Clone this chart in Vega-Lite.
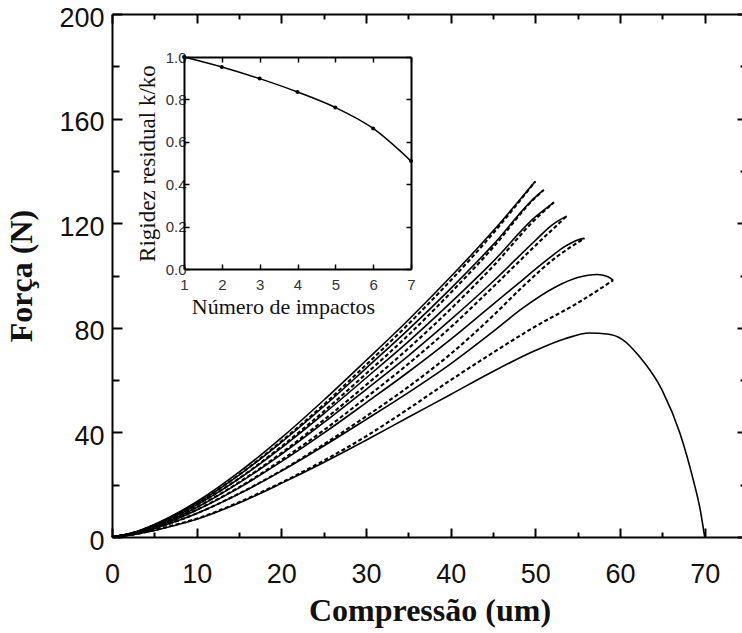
{
  "$schema": "https://vega.github.io/schema/vega-lite/v6.json",
  "width": 635,
  "height": 523,
  "autosize": {"type": "none"},
  "padding": {"left": 112, "top": 14, "right": 0, "bottom": 96},
  "background": "white",
  "config": {
    "view": {"stroke": null},
    "axis": {"grid": false, "domainColor": "black", "tickColor": "black", "labelOverlap": false, "labelFlush": false}
  },
  "datasets": {
    "carga": [
      {"impacto": 1, "x": 0, "f": 0}, {"impacto": 1, "x": 2.5, "f": 1.7}, {"impacto": 1, "x": 5, "f": 4.8}, {"impacto": 1, "x": 7.5, "f": 8.8}, {"impacto": 1, "x": 10, "f": 13.5}, {"impacto": 1, "x": 15, "f": 24.8}, {"impacto": 1, "x": 20, "f": 37.9}, {"impacto": 1, "x": 25, "f": 52.3}, {"impacto": 1, "x": 30, "f": 67.5}, {"impacto": 1, "x": 35, "f": 83}, {"impacto": 1, "x": 40, "f": 99.5}, {"impacto": 1, "x": 45, "f": 117}, {"impacto": 1, "x": 50, "f": 136},
      {"impacto": 2, "x": 0, "f": 0}, {"impacto": 2, "x": 2.5, "f": 1.6}, {"impacto": 2, "x": 5, "f": 4.6}, {"impacto": 2, "x": 7.5, "f": 8.4}, {"impacto": 2, "x": 10, "f": 12.9}, {"impacto": 2, "x": 15, "f": 23.7}, {"impacto": 2, "x": 20, "f": 36.2}, {"impacto": 2, "x": 25, "f": 49.9}, {"impacto": 2, "x": 30, "f": 64.5}, {"impacto": 2, "x": 35, "f": 79.3}, {"impacto": 2, "x": 40, "f": 95}, {"impacto": 2, "x": 45, "f": 111.7}, {"impacto": 2, "x": 50, "f": 130}, {"impacto": 2, "x": 51, "f": 132.7},
      {"impacto": 3, "x": 0, "f": 0}, {"impacto": 3, "x": 2.5, "f": 1.5}, {"impacto": 3, "x": 5, "f": 4.3}, {"impacto": 3, "x": 7.5, "f": 7.9}, {"impacto": 3, "x": 10, "f": 12.2}, {"impacto": 3, "x": 15, "f": 22.3}, {"impacto": 3, "x": 20, "f": 34.1}, {"impacto": 3, "x": 25, "f": 47.1}, {"impacto": 3, "x": 30, "f": 60.8}, {"impacto": 3, "x": 35, "f": 74.7}, {"impacto": 3, "x": 40, "f": 89.6}, {"impacto": 3, "x": 45, "f": 105.3}, {"impacto": 3, "x": 50, "f": 122.4}, {"impacto": 3, "x": 52.2, "f": 128},
      {"impacto": 4, "x": 0, "f": 0}, {"impacto": 4, "x": 2.5, "f": 1.4}, {"impacto": 4, "x": 5, "f": 4.0}, {"impacto": 4, "x": 7.5, "f": 7.3}, {"impacto": 4, "x": 10, "f": 11.3}, {"impacto": 4, "x": 15, "f": 20.7}, {"impacto": 4, "x": 20, "f": 31.6}, {"impacto": 4, "x": 25, "f": 43.7}, {"impacto": 4, "x": 30, "f": 56.4}, {"impacto": 4, "x": 35, "f": 69.3}, {"impacto": 4, "x": 40, "f": 83.1}, {"impacto": 4, "x": 45, "f": 97.7}, {"impacto": 4, "x": 50, "f": 113.4}, {"impacto": 4, "x": 52, "f": 119.4}, {"impacto": 4, "x": 53.7, "f": 122.7},
      {"impacto": 5, "x": 0, "f": 0}, {"impacto": 5, "x": 2.5, "f": 1.3}, {"impacto": 5, "x": 5, "f": 3.6}, {"impacto": 5, "x": 7.5, "f": 6.7}, {"impacto": 5, "x": 10, "f": 10.3}, {"impacto": 5, "x": 15, "f": 18.8}, {"impacto": 5, "x": 20, "f": 28.8}, {"impacto": 5, "x": 25, "f": 39.7}, {"impacto": 5, "x": 30, "f": 51.3}, {"impacto": 5, "x": 35, "f": 63.1}, {"impacto": 5, "x": 40, "f": 75.6}, {"impacto": 5, "x": 45, "f": 89}, {"impacto": 5, "x": 48, "f": 97}, {"impacto": 5, "x": 51, "f": 105}, {"impacto": 5, "x": 53.7, "f": 111.5}, {"impacto": 5, "x": 55, "f": 113.6}, {"impacto": 5, "x": 55.8, "f": 114.2},
      {"impacto": 6, "x": 0, "f": 0}, {"impacto": 6, "x": 2.5, "f": 1.1}, {"impacto": 6, "x": 5, "f": 3.2}, {"impacto": 6, "x": 7.5, "f": 5.9}, {"impacto": 6, "x": 10, "f": 9.0}, {"impacto": 6, "x": 15, "f": 16.5}, {"impacto": 6, "x": 20, "f": 25.2}, {"impacto": 6, "x": 25, "f": 34.8}, {"impacto": 6, "x": 30, "f": 44.9}, {"impacto": 6, "x": 35, "f": 55.2}, {"impacto": 6, "x": 40, "f": 66.2}, {"impacto": 6, "x": 45, "f": 78.5}, {"impacto": 6, "x": 48.5, "f": 87.5}, {"impacto": 6, "x": 52.5, "f": 95.8}, {"impacto": 6, "x": 55, "f": 99.2}, {"impacto": 6, "x": 57.3, "f": 100.4}, {"impacto": 6, "x": 58.5, "f": 99.6}, {"impacto": 6, "x": 59.2, "f": 98.2},
      {"impacto": 7, "x": 0, "f": 0}, {"impacto": 7, "x": 2.5, "f": 0.9}, {"impacto": 7, "x": 5, "f": 2.5}, {"impacto": 7, "x": 7.5, "f": 4.5}, {"impacto": 7, "x": 10, "f": 6.8}, {"impacto": 7, "x": 15, "f": 13}, {"impacto": 7, "x": 20, "f": 20.5}, {"impacto": 7, "x": 25, "f": 28.5}, {"impacto": 7, "x": 30, "f": 37}, {"impacto": 7, "x": 35, "f": 45.8}, {"impacto": 7, "x": 40, "f": 54.5}, {"impacto": 7, "x": 45, "f": 63.3}, {"impacto": 7, "x": 50, "f": 71.3}, {"impacto": 7, "x": 53.5, "f": 75.8}, {"impacto": 7, "x": 56.4, "f": 78}, {"impacto": 7, "x": 58.5, "f": 77.6}, {"impacto": 7, "x": 60.3, "f": 75.5}, {"impacto": 7, "x": 62.3, "f": 69}, {"impacto": 7, "x": 65, "f": 56}, {"impacto": 7, "x": 67.1, "f": 39.5}, {"impacto": 7, "x": 68.6, "f": 22.5}, {"impacto": 7, "x": 69.5, "f": 10}, {"impacto": 7, "x": 70, "f": 0}
    ],
    "descarga": [
      {"impacto": 1, "x": 0, "f": 0}, {"impacto": 1, "x": 2.5, "f": 1.6}, {"impacto": 1, "x": 5, "f": 4.6}, {"impacto": 1, "x": 7.5, "f": 8.4}, {"impacto": 1, "x": 10, "f": 12.95}, {"impacto": 1, "x": 15, "f": 23.8}, {"impacto": 1, "x": 20, "f": 36.6}, {"impacto": 1, "x": 25, "f": 50.6}, {"impacto": 1, "x": 30, "f": 65.8}, {"impacto": 1, "x": 35, "f": 81.4}, {"impacto": 1, "x": 40, "f": 98.1}, {"impacto": 1, "x": 45, "f": 116.1}, {"impacto": 1, "x": 50, "f": 136},
      {"impacto": 2, "x": 0, "f": 0}, {"impacto": 2, "x": 2.5, "f": 1.5}, {"impacto": 2, "x": 5, "f": 4.3}, {"impacto": 2, "x": 7.5, "f": 7.9}, {"impacto": 2, "x": 10, "f": 12.3}, {"impacto": 2, "x": 15, "f": 22.4}, {"impacto": 2, "x": 20, "f": 34.6}, {"impacto": 2, "x": 25, "f": 48.0}, {"impacto": 2, "x": 30, "f": 62.4}, {"impacto": 2, "x": 35, "f": 77.2}, {"impacto": 2, "x": 40, "f": 93.4}, {"impacto": 2, "x": 45, "f": 110.7}, {"impacto": 2, "x": 50, "f": 129.8}, {"impacto": 2, "x": 51, "f": 132.7},
      {"impacto": 3, "x": 0, "f": 0}, {"impacto": 3, "x": 2.5, "f": 1.4}, {"impacto": 3, "x": 5, "f": 4.0}, {"impacto": 3, "x": 7.5, "f": 7.3}, {"impacto": 3, "x": 10, "f": 11.4}, {"impacto": 3, "x": 15, "f": 20.9}, {"impacto": 3, "x": 20, "f": 32.1}, {"impacto": 3, "x": 25, "f": 44.7}, {"impacto": 3, "x": 30, "f": 58.1}, {"impacto": 3, "x": 35, "f": 72.1}, {"impacto": 3, "x": 40, "f": 87.2}, {"impacto": 3, "x": 45, "f": 103.5}, {"impacto": 3, "x": 50, "f": 121.5}, {"impacto": 3, "x": 52.2, "f": 128},
      {"impacto": 4, "x": 0, "f": 0}, {"impacto": 4, "x": 2.5, "f": 1.3}, {"impacto": 4, "x": 5, "f": 3.6}, {"impacto": 4, "x": 7.5, "f": 6.7}, {"impacto": 4, "x": 10, "f": 10.4}, {"impacto": 4, "x": 15, "f": 19.0}, {"impacto": 4, "x": 20, "f": 29.4}, {"impacto": 4, "x": 25, "f": 40.8}, {"impacto": 4, "x": 30, "f": 53.3}, {"impacto": 4, "x": 35, "f": 66.2}, {"impacto": 4, "x": 40, "f": 80.2}, {"impacto": 4, "x": 45, "f": 95.6}, {"impacto": 4, "x": 50, "f": 111.4}, {"impacto": 4, "x": 53.7, "f": 122.7},
      {"impacto": 5, "x": 0, "f": 0}, {"impacto": 5, "x": 2.5, "f": 1.1}, {"impacto": 5, "x": 5, "f": 3.2}, {"impacto": 5, "x": 7.5, "f": 5.9}, {"impacto": 5, "x": 10, "f": 9.0}, {"impacto": 5, "x": 15, "f": 16.6}, {"impacto": 5, "x": 20, "f": 25.4}, {"impacto": 5, "x": 25, "f": 35.4}, {"impacto": 5, "x": 30, "f": 46.1}, {"impacto": 5, "x": 35, "f": 57.4}, {"impacto": 5, "x": 40, "f": 70.0}, {"impacto": 5, "x": 45, "f": 84.6}, {"impacto": 5, "x": 48.5, "f": 95.7}, {"impacto": 5, "x": 52.5, "f": 107.1}, {"impacto": 5, "x": 55.8, "f": 114.2},
      {"impacto": 6, "x": 0, "f": 0}, {"impacto": 6, "x": 2.5, "f": 1.0}, {"impacto": 6, "x": 5, "f": 2.6}, {"impacto": 6, "x": 7.5, "f": 4.7}, {"impacto": 6, "x": 10, "f": 7}, {"impacto": 6, "x": 15, "f": 13.3}, {"impacto": 6, "x": 20, "f": 20.8}, {"impacto": 6, "x": 25, "f": 29.2}, {"impacto": 6, "x": 30, "f": 38.5}, {"impacto": 6, "x": 35, "f": 49}, {"impacto": 6, "x": 40, "f": 60}, {"impacto": 6, "x": 45, "f": 70.5}, {"impacto": 6, "x": 50, "f": 80.5}, {"impacto": 6, "x": 55, "f": 89.5}, {"impacto": 6, "x": 59.2, "f": 98.2}
    ],
    "rigidez": [
      {"impacto": 1, "k": 1.0},
      {"impacto": 2, "k": 0.953},
      {"impacto": 3, "k": 0.898},
      {"impacto": 4, "k": 0.835},
      {"impacto": 5, "k": 0.762},
      {"impacto": 6, "k": 0.663},
      {"impacto": 7, "k": 0.509}
    ]
  },
  "layer": [
    {
      "data": {"name": "carga"},
      "mark": {"type": "line", "interpolate": "monotone", "stroke": "black", "strokeWidth": 1.6},
      "encoding": {
        "detail": {"field": "impacto"},
        "x": {
          "field": "x", "type": "quantitative",
          "scale": {"domain": [0, 75], "nice": false},
          "axis": {
            "orient": "bottom",
            "values": [0, 5, 10, 15, 20, 25, 30, 35, 40, 45, 50, 55, 60, 65, 70, 75],
            "labelExpr": "datum.value % 10 === 0 && datum.value < 75 ? datum.label : ''",
            "tickSize": {"condition": {"test": "datum.value % 10 === 0", "value": -9}, "value": -5},
            "tickWidth": 2, "domainWidth": 2,
            "labelFont": "Liberation Sans", "labelFontSize": 27, "labelColor": "#111", "labelPadding": 33,
            "title": "Compressão (um)", "titleFont": "Liberation Serif", "titleFontSize": 32, "titleFontWeight": "bold", "titleColor": "#111", "titlePadding": 4
          }
        },
        "y": {
          "field": "f", "type": "quantitative",
          "scale": {"domain": [0, 200], "nice": false},
          "axis": {
            "orient": "left",
            "values": [0, 20, 40, 60, 80, 100, 120, 140, 160, 180, 200],
            "labelExpr": "datum.value % 40 === 0 ? datum.label : ''",
            "tickSize": {"condition": {"test": "datum.value % 40 === 0", "value": -10}, "value": -7},
            "tickWidth": 2, "domainWidth": 2,
            "labelFont": "Liberation Sans", "labelFontSize": 27, "labelColor": "#111", "labelPadding": 18, "labelOffset": 4,
            "title": "Força (N)", "titleFont": "Liberation Serif", "titleFontSize": 32, "titleFontWeight": "bold", "titleColor": "#111", "titlePadding": 20
          }
        }
      }
    },
    {
      "data": {"name": "descarga"},
      "mark": {"type": "line", "interpolate": "monotone", "stroke": "black", "strokeWidth": 2.1, "strokeDash": [4, 2.5]},
      "encoding": {
        "detail": {"field": "impacto"},
        "x": {
          "field": "x", "type": "quantitative",
          "scale": {"domain": [0, 75], "nice": false},
          "axis": {
            "orient": "top",
            "values": [0, 5, 10, 15, 20, 25, 30, 35, 40, 45, 50, 55, 60, 65, 70, 75],
            "labels": false,
            "tickSize": {"condition": {"test": "datum.value % 10 === 0", "value": -9}, "value": -5},
            "tickWidth": 2, "domainWidth": 2, "title": null
          }
        },
        "y": {
          "field": "f", "type": "quantitative",
          "scale": {"domain": [0, 200], "nice": false},
          "axis": {
            "orient": "right",
            "values": [0, 20, 40, 60, 80, 100, 120, 140, 160, 180, 200],
            "labels": false,
            "tickSize": {"condition": {"test": "datum.value % 40 === 0", "value": -10}, "value": -7},
            "tickWidth": 2, "domainWidth": 2, "title": null
          }
        }
      }
    },
    {
      "data": {"name": "rigidez"},
      "mark": {"type": "line", "interpolate": "monotone", "stroke": "black", "strokeWidth": 1.5},
      "encoding": {
        "x": {
          "field": "impacto", "type": "quantitative",
          "scale": {"domain": [1, 7], "nice": false, "zero": false, "range": [72, 299]},
          "axis": {
            "orient": "bottom", "offset": -268,
            "values": [1, 2, 3, 4, 5, 6, 7],
            "tickSize": -5, "tickWidth": 1.5, "domainWidth": 2,
            "labelFont": "Liberation Sans", "labelFontSize": 15, "labelColor": "#333", "labelPadding": 13,
            "title": "Número de impactos", "titleFont": "Liberation Serif", "titleFontSize": 22, "titleFontWeight": "normal", "titleColor": "#111", "titlePadding": 4,
            "titleX": 171, "titleAlign": "center"
          }
        },
        "y": {
          "field": "k", "type": "quantitative",
          "scale": {"domain": [0, 1], "nice": false, "range": [255, 43]},
          "axis": {
            "orient": "left", "offset": -72,
            "values": [0, 0.2, 0.4, 0.6, 0.8, 1.0],
            "format": ".1f",
            "tickSize": -5, "tickWidth": 1.5, "domainWidth": 2,
            "labelFont": "Liberation Sans", "labelFontSize": 15, "labelColor": "#333", "labelPadding": 3,
            "title": "Rigidez residual k/ko", "titleFont": "Liberation Serif", "titleFontSize": 23, "titleFontWeight": "normal", "titleColor": "#111", "titlePadding": 6
          }
        }
      }
    },
    {
      "data": {"name": "rigidez"},
      "mark": {"type": "point", "filled": true, "color": "black", "size": 16, "opacity": 1},
      "encoding": {
        "x": {
          "field": "impacto", "type": "quantitative",
          "scale": {"domain": [1, 7], "nice": false, "zero": false, "range": [72, 299]},
          "axis": {
            "orient": "top", "offset": -43,
            "values": [1, 2, 3, 4, 5, 6, 7],
            "labels": false, "tickSize": -5, "tickWidth": 1.5, "domainWidth": 2, "title": null
          }
        },
        "y": {
          "field": "k", "type": "quantitative",
          "scale": {"domain": [0, 1], "nice": false, "range": [255, 43]},
          "axis": {
            "orient": "right", "offset": -336,
            "values": [0, 0.2, 0.4, 0.6, 0.8, 1.0],
            "labels": false, "tickSize": -5, "tickWidth": 1.5, "domainWidth": 2, "title": null
          }
        }
      }
    }
  ],
  "resolve": {"scale": {"x": "independent", "y": "independent"}}
}
